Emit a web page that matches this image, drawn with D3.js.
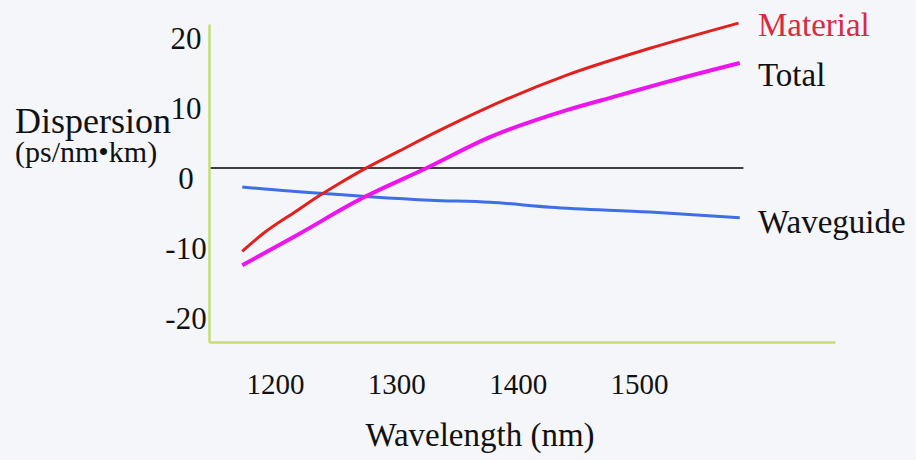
<!DOCTYPE html>
<html>
<head>
<meta charset="utf-8">
<script src="https://cdn.jsdelivr.net/npm/d3@7"></script>
<style>
  html, body { margin: 0; padding: 0; background: #f4f6f9; }
</style>
</head>
<body>
<div id="chart"></div>
<script>
// wavelength (nm) and dispersion (ps/nm.km)
var materialNm = [1173, 1190, 1218, 1237, 1254, 1272, 1301, 1336, 1371, 1441, 1509, 1582];
var materialD  = [-11.9, -9.4, -6.1, -3.9, -2.1, -0.3, 2.3, 5.4, 8.3, 13.3, 17.1, 20.7];

var totalNm = [1173, 1218, 1272, 1325, 1377, 1441, 1482, 1523, 1583];
var totalD  = [-13.9, -9.6, -4.3, 0.0, 4.4, 8.3, 10.3, 12.3, 15.0];

var waveguideNm = [1173, 1212, 1237, 1278, 1328, 1377, 1427, 1509, 1583];
var waveguideD  = [-2.7, -3.3, -3.6, -4.1, -4.6, -4.9, -5.6, -6.3, -7.1];

var xTicks = [1200, 1300, 1400, 1500];
var yTicks = [20, 10, 0, -10, -20];

var width = 916, height = 460;
var serif = "'Liberation Serif'";

var svg = d3.select("#chart").append("svg")
    .attr("width", width)
    .attr("height", height);

var x = d3.scaleLinear().domain([1145.6, 1661.5]).range([209, 835]);
var y = d3.scaleLinear().domain([-24.86, 20.57]).range([342, 24]);

// zero line
svg.append("line")
    .attr("x1", x(1145.6)).attr("x2", x(1586))
    .attr("y1", y(0)).attr("y2", y(0))
    .attr("stroke", "#000").attr("stroke-width", 1.5);

// axes
var xAxis = svg.append("g")
    .attr("transform", "translate(0," + y(-24.86) + ")")
    .call(d3.axisBottom(x).tickValues(xTicks).tickSize(0).tickSizeOuter(0).tickFormat(String));
xAxis.selectAll("text")
    .attr("y", 52).attr("dy", null)
    .style("font-family", serif)
    .style("font-size", "29px").attr("fill", "#111");

var yAxis = svg.append("g")
    .attr("transform", "translate(" + x(1145.6) + ",0)")
    .call(d3.axisLeft(y).tickValues(yTicks).tickSize(0).tickSizeOuter(0).tickFormat(String));
yAxis.selectAll("text")
    .attr("x", -23).attr("y", 21).attr("dy", null)
    .attr("text-anchor", "middle")
    .style("font-family", serif)
    .style("font-size", "31px").attr("fill", "#111");

svg.selectAll(".domain")
    .attr("stroke", "#c6dc78")
    .attr("stroke-width", 2.5);

// curves
var line = d3.line()
    .x(function(d) { return x(d[0]); })
    .y(function(d) { return y(d[1]); })
    .curve(d3.curveMonotoneX);

function series(nm, vals) {
  return nm.map(function(n, i) { return [n, vals[i]]; });
}

svg.append("path")
    .datum(series(waveguideNm, waveguideD))
    .attr("d", line)
    .attr("fill", "none").attr("stroke", "#3f6fe6").attr("stroke-width", 3);

svg.append("path")
    .datum(series(totalNm, totalD))
    .attr("d", line)
    .attr("fill", "none").attr("stroke", "#ee14ee").attr("stroke-width", 4);

svg.append("path")
    .datum(series(materialNm, materialD))
    .attr("d", line)
    .attr("fill", "none").attr("stroke", "#e3201e").attr("stroke-width", 3);

// labels
function label(px, py, size, color, txt) {
  return svg.append("text")
      .attr("x", px).attr("y", py)
      .style("font-family", serif)
      .style("font-size", size + "px")
      .attr("fill", color)
      .text(txt);
}

label(758, 36, 33, "#d62b42", "Material");
label(758, 86, 33, "#111", "Total");
label(758, 233, 33, "#111", "Waveguide");

label(15, 133, 36, "#111", "Dispersion");
label(15, 162, 30, "#111", "(ps/nm\u2022km)");

label(480, 446, 33, "#111", "Wavelength (nm)").attr("text-anchor", "middle");
</script>
</body>
</html>
